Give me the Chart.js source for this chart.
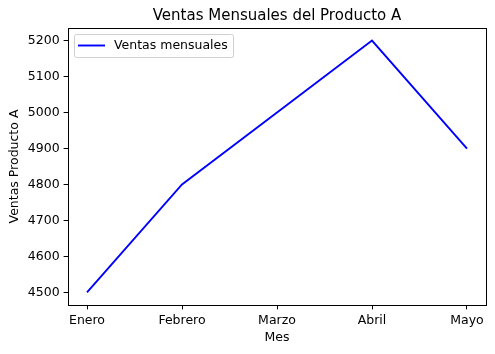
<!DOCTYPE html>
<html>
<head>
<meta charset="utf-8">
<script src="https://cdn.jsdelivr.net/npm/chart.js@4"></script>
<style>
  html, body { margin: 0; padding: 0; background: white; }
  canvas { display: block; }
</style>
</head>
<body>
<canvas id="chart" width="495" height="354"></canvas>
<script>
// Data
const months = ['Enero', 'Febrero', 'Marzo', 'Abril', 'Mayo'];
const sales = [4500, 4800, 5000, 5200, 4900];
const yTicks = [4500, 4600, 4700, 4800, 4900, 5000, 5100, 5200];

const FONT = 'DejaVu Sans';

// Frame, title, axis labels and legend, matplotlib style
const decorations = {
  id: 'decorations',
  afterDraw(chart) {
    const { ctx, chartArea: a } = chart;
    ctx.save();
    ctx.strokeStyle = '#000';
    ctx.lineWidth = 1;
    ctx.strokeRect(Math.round(a.left) + 0.5, Math.round(a.top) + 0.5,
      Math.round(a.right - a.left), Math.round(a.bottom - a.top));

    ctx.fillStyle = '#000';
    ctx.textAlign = 'center';
    ctx.textBaseline = 'middle';
    ctx.font = '15px "' + FONT + '"';
    ctx.fillText('Ventas Mensuales del Producto A', (a.left + a.right) / 2, 16);

    ctx.font = '12.5px "' + FONT + '"';
    ctx.fillText('Mes', (a.left + a.right) / 2, 338);
    ctx.translate(15, (a.top + a.bottom) / 2);
    ctx.rotate(-Math.PI / 2);
    ctx.fillText('Ventas Producto A', 0, 0);
    ctx.restore();

    // legend box
    ctx.save();
    const lx = a.left + 6, ly = a.top + 6, lw = 159, lh = 23;
    ctx.fillStyle = 'rgba(255,255,255,0.8)';
    ctx.strokeStyle = '#d0d0d0';
    ctx.lineWidth = 1;
    ctx.beginPath();
    ctx.roundRect(lx + 0.5, ly + 0.5, lw, lh, 2);
    ctx.fill();
    ctx.stroke();
    ctx.strokeStyle = '#0000ff';
    ctx.lineWidth = 1.9;
    ctx.beginPath();
    ctx.moveTo(lx + 4, ly + 11.5);
    ctx.lineTo(lx + 31, ly + 11.5);
    ctx.stroke();
    ctx.fillStyle = '#000';
    ctx.font = '12.5px "' + FONT + '"';
    ctx.textAlign = 'left';
    ctx.textBaseline = 'middle';
    ctx.fillText('Ventas mensuales', lx + 40, ly + 12);
    ctx.restore();
  }
};

new Chart(document.getElementById('chart'), {
  type: 'line',
  data: {
    datasets: [{
      label: 'Ventas mensuales',
      data: sales.map((v, i) => ({ x: i, y: v })),
      borderColor: '#0000ff',
      borderWidth: 1.9,
      pointRadius: 0,
      tension: 0,
      fill: false
    }]
  },
  options: {
    responsive: false,
    animation: false,
    layout: { padding: { top: 28, right: 9, left: 0, bottom: 0 } },
    plugins: {
      legend: { display: false },
      title: { display: false },
      tooltip: { enabled: false }
    },
    scales: {
      x: {
        type: 'linear',
        min: -0.2,
        max: 4.2,
        afterBuildTicks: s => { s.ticks = months.map((m, i) => ({ value: i })); },
        afterFit: s => { s.height = 49; },
        grid: { display: true, drawOnChartArea: false, tickLength: 4.4, color: '#000' },
        border: { display: false },
        ticks: {
          color: '#000',
          padding: 4,
          maxRotation: 0,
          font: { family: FONT, size: 12.5 },
          callback: v => months[v]
        }
      },
      y: {
        min: 4465,
        max: 5235,
        afterBuildTicks: s => { s.ticks = yTicks.map(v => ({ value: v })); },
        afterFit: s => { s.width = 68; },
        grid: { display: true, drawOnChartArea: false, tickLength: 4.4, color: '#000' },
        border: { display: false },
        ticks: {
          color: '#000',
          padding: 4,
          font: { family: FONT, size: 12.5 },
          callback: v => String(v)
        }
      }
    }
  },
  plugins: [decorations]
});
</script>
</body>
</html>
